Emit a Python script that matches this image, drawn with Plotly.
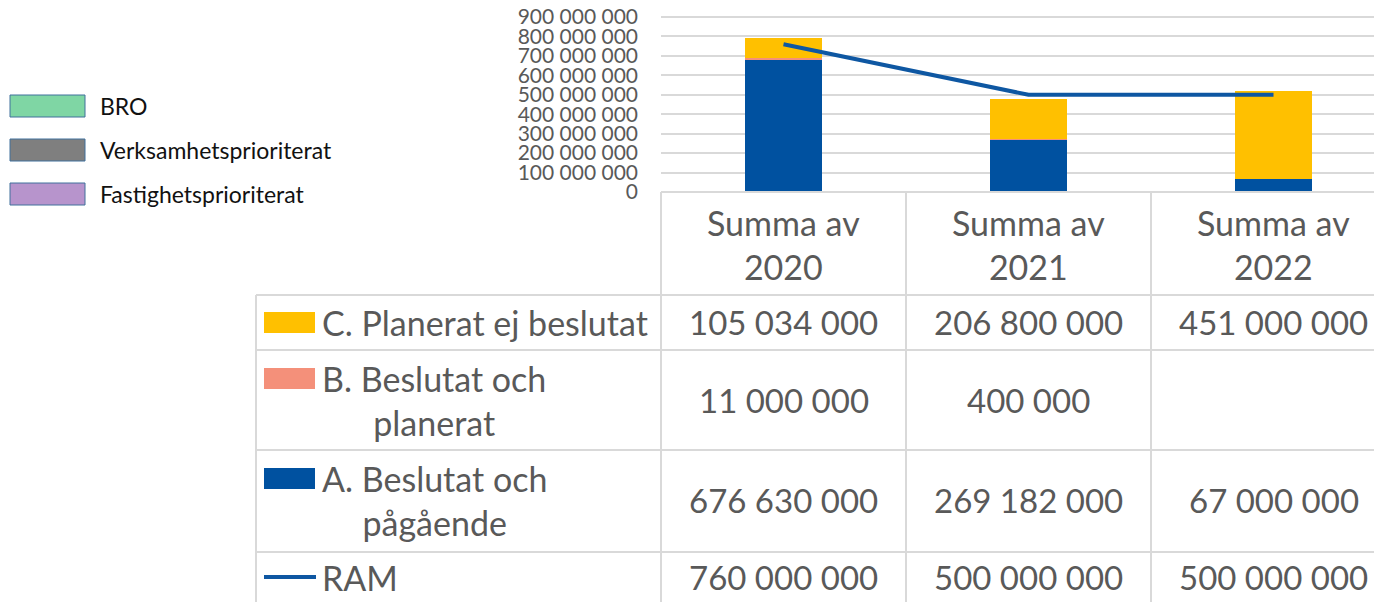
import plotly.graph_objects as go

# data
categories = ["2020", "2021", "2022"]
header_labels = ["Summa av<br>2020", "Summa av<br>2021", "Summa av<br>2022"]
a_pagaende = [676630000, 269182000, 67000000]
b_planerat = [11000000, 400000, None]
c_ej_beslutat = [105034000, 206800000, 451000000]
ram = [760000000, 500000000, 500000000]
y_ticks = list(range(0, 900000001, 100000000))
extra_legend = ["BRO", "Verksamhetsprioriterat", "Fastighetsprioriterat"]
extra_colors = ["#7fd6a4", "#7f7f7f", "#b794cc"]

W, H = 1382, 602
OFF = 8  # page body margin
BLUE = '#0051a0'
ORANGE = '#ffc000'
SALMON = '#f4907a'
LINE = '#0e57a2'
GRID = '#d9d9d9'
TXT = '#595959'
FONT = 'Lato'
TS = 34
VS = 33
COL_W = 245


def px(x):
    return (x - OFF) / W


def py(y):
    return 1 - (y - OFF) / H


def fmt(v):
    return '' if v is None else f"{v:,}".replace(',', ' ')


fig = go.Figure()
fig.add_trace(go.Bar(x=categories, y=a_pagaende, marker=dict(color=BLUE, line_width=0),
                     width=0.314, name='A. Beslutat och pågående'))
fig.add_trace(go.Bar(x=categories, y=[v or 0 for v in b_planerat], marker=dict(color=SALMON, line_width=0),
                     width=0.314, name='B. Beslutat och planerat'))
fig.add_trace(go.Bar(x=categories, y=c_ej_beslutat, marker=dict(color=ORANGE, line_width=0),
                     width=0.314, name='C. Planerat ej beslutat'))
fig.add_trace(go.Scatter(x=categories, y=ram, mode='lines', name='RAM',
                         line=dict(color=LINE, width=4)))

shapes = []
ann = []


def hline(y, x0, x1=W + OFF):
    shapes.append(dict(type='line', xref='paper', yref='paper', x0=px(x0), x1=px(x1),
                       y0=py(y), y1=py(y), line=dict(color=GRID, width=2)))


def vline(x, y0, y1=H + OFF):
    shapes.append(dict(type='line', xref='paper', yref='paper', x0=px(x), x1=px(x),
                       y0=py(y0), y1=py(y1), line=dict(color=GRID, width=2)))


hline(192, 661)
for y in [295, 350, 450, 552]:
    hline(y, 256)
for x in [661, 906, 1151]:
    vline(x, 192)
vline(256, 295)

# header row
for i, lab in enumerate(header_labels):
    ann.append(dict(x=i, xref='x', y=py(244), yref='paper', text=lab, showarrow=False,
                    xanchor='center', yanchor='middle', align='center',
                    font=dict(size=TS, color=TXT, family=FONT)))

rows = [
    ("C. Planerat ej beslutat", c_ej_beslutat, 322, ORANGE, 'box'),
    ("B. Beslutat och<br>planerat", b_planerat, 400, SALMON, 'box'),
    ("A. Beslutat och<br>pågående", a_pagaende, 500, BLUE, 'box'),
    ("RAM", ram, 577, LINE, 'line'),
]
for label, vals, yc, col, kind in rows:
    ann.append(dict(x=px(320), xref='paper', y=py(yc), yref='paper', text=label, showarrow=False,
                    xanchor='left', yanchor='middle', align='center',
                    font=dict(size=TS, color=TXT, family=FONT)))
    for i, v in enumerate(vals):
        ann.append(dict(x=i, xref='x', y=py(yc), yref='paper', text=fmt(v), showarrow=False,
                        xanchor='center', yanchor='middle',
                        font=dict(size=VS, color=TXT, family=FONT)))
    top = yc - 10 if '<br>' not in label else yc - 32
    if kind == 'box':
        shapes.append(dict(type='rect', xref='paper', yref='paper', x0=px(264), x1=px(315),
                           y0=py(top), y1=py(top + 21), fillcolor=col, line_width=0))
    else:
        shapes.append(dict(type='line', xref='paper', yref='paper', x0=px(264), x1=px(316),
                           y0=py(yc), y1=py(yc), line=dict(color=col, width=4)))

# extra legend at top left
for i, (lab, col) in enumerate(zip(extra_legend, extra_colors)):
    yc = 106 + i * 44
    shapes.append(dict(type='rect', xref='paper', yref='paper', x0=px(10), x1=px(85),
                       y0=py(yc - 11), y1=py(yc + 11), fillcolor=col,
                       line=dict(color='#41719c', width=1)))
    ann.append(dict(x=px(98), xref='paper', y=py(yc), yref='paper', text=lab, showarrow=False,
                    xanchor='left', yanchor='middle', font=dict(size=23, color='#111111', family=FONT)))

fig.update_layout(
    width=W, height=H,
    margin=dict(l=0, r=0, t=0, b=0, autoexpand=False),
    paper_bgcolor='white', plot_bgcolor='white',
    barmode='stack', showlegend=False, bargap=0,
    separators='. ',
    font=dict(family=FONT, color=TXT),
    xaxis=dict(type='category', domain=[px(661), 1],
               range=[-0.5, -0.5 + (W + OFF - 661) / COL_W],
               showticklabels=False, showgrid=False, zeroline=False, showline=False,
               automargin=False),
    yaxis=dict(domain=[py(192), py(13.1)], range=[0, 920000000], tickvals=y_ticks,
               tickformat=',d', showgrid=True, gridcolor=GRID, gridwidth=2,
               zeroline=False, showline=False, ticklabelstandoff=22, automargin=False,
               ticklabeloverflow='allow',
               tickfont=dict(size=21, color=TXT, family=FONT)),
    shapes=shapes, annotations=ann,
)

fig.write_html("out.html")
